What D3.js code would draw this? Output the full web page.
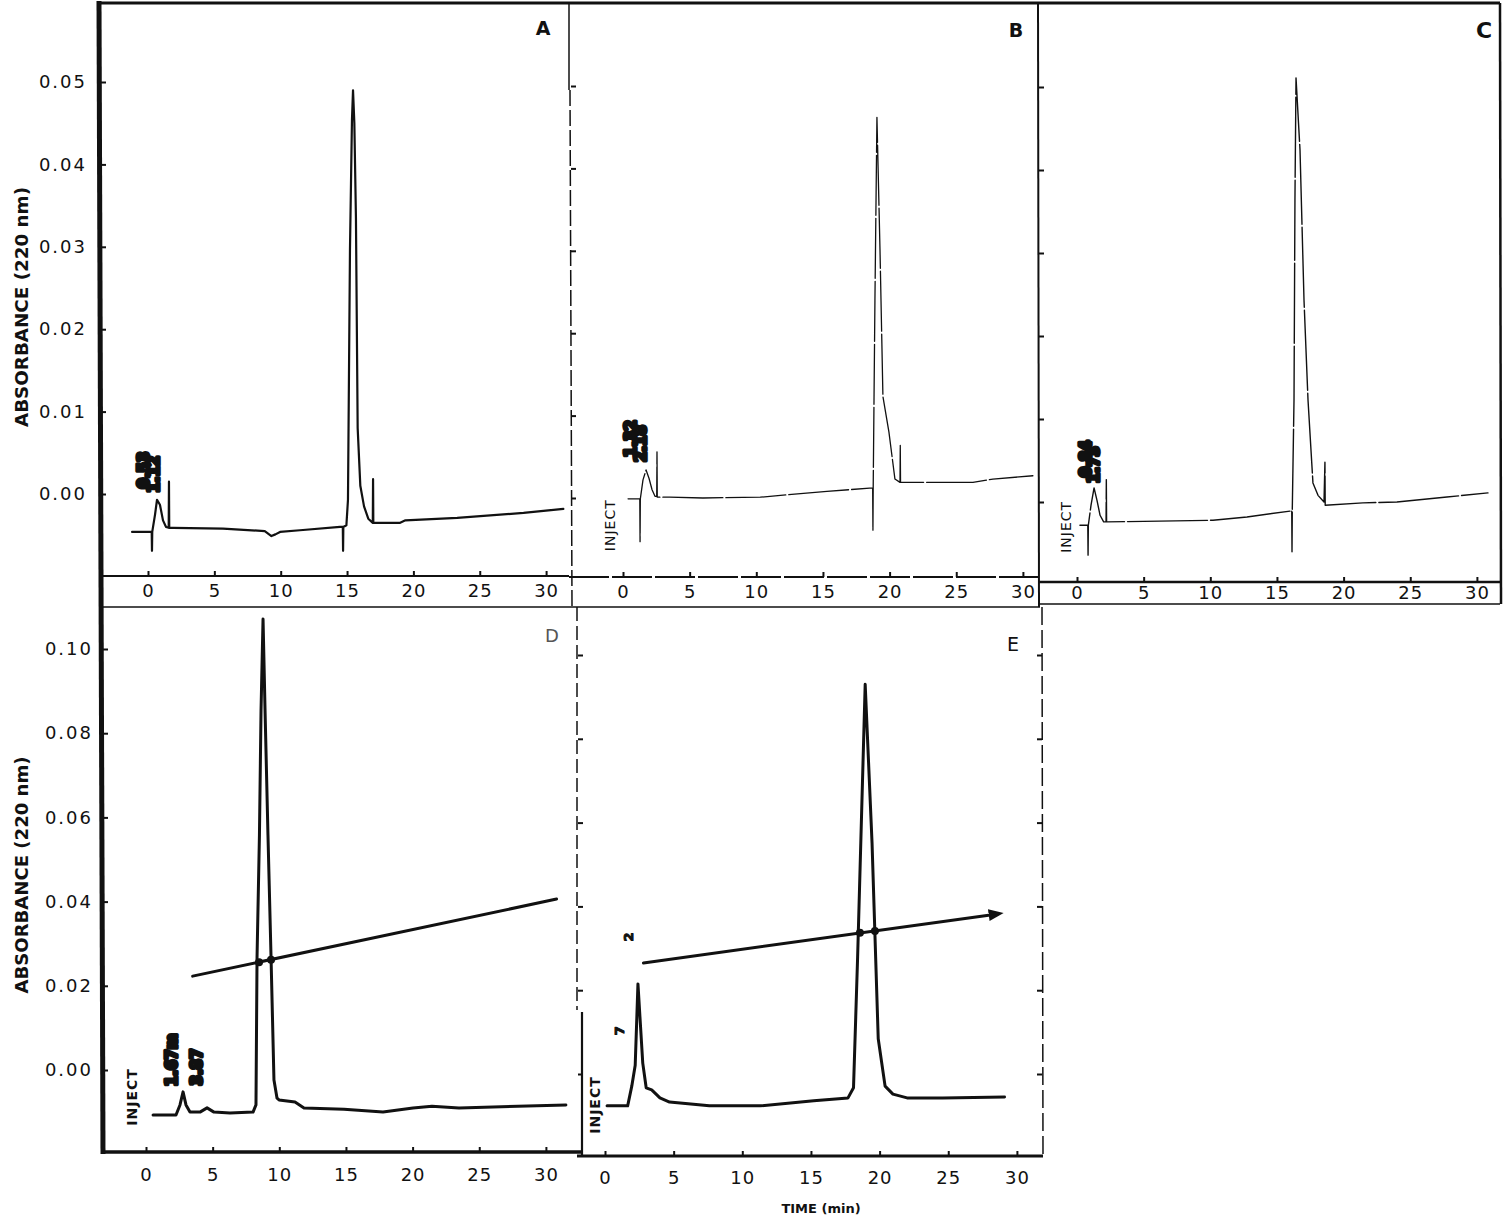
<!DOCTYPE html>
<html>
<meta charset="utf-8">
<style>
    body { margin: 0; background: #fff; }
    text { font-family: "DejaVu Sans", sans-serif; fill: #111; }
    .trace { fill: none; stroke: #111; stroke-linejoin: round; stroke-linecap: round; }
    .frame { stroke: #111; fill: none; }
    .tick text { font-size: 18px; }
    .tick line { stroke: #111; stroke-width: 2px; }
</style>
<body>
<script src="https://d3js.org/d3.v7.min.js"></script>
<script>

// tick values
var timeTicks = [0, 5, 10, 15, 20, 25, 30];
var absTicksTop = [0.00, 0.01, 0.02, 0.03, 0.04, 0.05];
var absTicksBottom = [0.00, 0.02, 0.04, 0.06, 0.08, 0.10];

// chromatograms: [time (min), absorbance]
var traceA = [
    [-1.2, -0.0046], [0.28, -0.0046], [0.3, -0.0069], [0.32, -0.0046],
    [0.53, -0.0025], [0.68, -0.0007], [0.9, -0.0013], [1.13, -0.0032], [1.36, -0.004], [1.56, -0.0041], [1.58, 0.0015], [1.6, -0.0041],
    [1.9, -0.0041], [5.65, -0.0042], [8.8, -0.0045], [9.3, -0.0051], [9.6, -0.0049], [9.95, -0.0046], [11.45, -0.0044], [14.47, -0.004],
    [14.68, -0.004], [14.7, -0.0069], [14.72, -0.004],
    [14.95, -0.0038], [15.07, -0.0007], [15.22, 0.0296], [15.37, 0.0454], [15.45, 0.049], [15.55, 0.045], [15.67, 0.0335],
    [15.8, 0.008], [16.0, 0.001], [16.28, -0.0015], [16.6, -0.003], [16.94, -0.0035], [16.96, 0.0018], [16.98, -0.0035],
    [19.0, -0.0035], [19.4, -0.0032], [23.3, -0.0029], [28.3, -0.0023], [31.3, -0.0018]
];
var traceB = [
    [0.38, -0.0001], [1.26, -0.0001], [1.28, -0.0053], [1.3, -0.0001],
    [1.5, 0.0022], [1.73, 0.0034], [1.95, 0.0024], [2.18, 0.001], [2.4, 0.0002], [2.53, 0.0002], [2.55, 0.0056], [2.57, 0.0001],
    [3.5, 0.0001], [6.0, 0.0], [10.3, 0.0001], [15.3, 0.0008], [18.5, 0.0012],
    [18.73, 0.0012], [18.75, -0.0039], [18.77, 0.0013],
    [18.9, 0.024], [19.05, 0.0462], [19.28, 0.0301], [19.5, 0.0123], [19.95, 0.008], [20.4, 0.0023],
    [20.78, 0.0019], [20.8, 0.0064], [20.82, 0.0019],
    [26.25, 0.0019], [27.75, 0.0023], [30.75, 0.0027]
];
var traceC = [
    [0.22, -0.0028], [0.81, -0.0028], [0.83, -0.0064], [0.85, -0.0028],
    [1.05, -0.0004], [1.28, 0.0017], [1.5, 0.0002], [1.73, -0.0016], [2.0, -0.0024], [2.18, -0.0024], [2.2, 0.0027], [2.22, -0.0024],
    [10.2, -0.0022], [12.75, -0.0018], [15.98, -0.0011],
    [16.11, -0.001], [16.13, -0.006], [16.15, -0.001],
    [16.28, 0.0123], [16.35, 0.0364], [16.43, 0.0511], [16.73, 0.0424], [17.03, 0.0243], [17.33, 0.0123], [17.7, 0.0023],
    [18.08, 0.0008], [18.53, 0.0], [18.6, 0.0048], [18.62, -0.0004],
    [21.45, -0.0001], [24.0, 0.0], [27.75, 0.0006], [30.83, 0.0011]
];
var traceD = [
    [0.53, -0.0107], [2.25, -0.0107], [2.55, -0.0083], [2.78, -0.0052], [3.0, -0.0083], [3.3, -0.01], [4.05, -0.01],
    [4.58, -0.009], [5.1, -0.01], [6.3, -0.0102], [8.03, -0.01],
    [8.25, -0.0083], [8.33, 0.0268], [8.51, 0.0558], [8.63, 0.0855], [8.78, 0.1071], [8.93, 0.0855], [9.15, 0.0558],
    [9.38, 0.0268], [9.6, -0.0024], [9.83, -0.0067],
    [9.98, -0.0071], [11.18, -0.0076], [11.85, -0.009], [14.85, -0.0093], [17.78, -0.01], [20.03, -0.009],
    [21.45, -0.0086], [23.48, -0.009], [31.5, -0.0083]
];
var traceE = [
    [0.15, -0.0076], [1.65, -0.0076], [1.95, -0.0029], [2.2, 0.0021], [2.4, 0.0215], [2.75, 0.0026], [3.0, -0.0033],
    [3.4, -0.0038], [4.0, -0.0057], [4.7, -0.0067], [7.6, -0.0076], [11.3, -0.0076], [15.2, -0.0064], [17.7, -0.0057],
    [18.1, -0.0033], [18.4, 0.028], [18.95, 0.093], [19.45, 0.0551], [19.9, 0.0084], [20.4, -0.0029], [20.97, -0.0048],
    [22.0, -0.0057], [24.6, -0.0057], [29.1, -0.0055]
];

// gradient lines and where the peaks cross them
var gradientD = [[3.5, 0.0223], [30.8, 0.0406]];
var gradientE = [[2.8, 0.0265], [28.6, 0.0382]];
var crossD = [[8.48, 0.0256], [9.38, 0.0262]];
var crossE = [[18.57, 0.0337], [19.66, 0.0341]];

// printed labels on the traces: [time, absorbance, text]
var injectA = [];
var injectB = [[-0.98, -0.0033, "INJECT"]];
var injectC = [[-0.83, -0.003, "INJECT"]];
var injectD = [[-1.05, -0.0064, "INJECT"]];
var injectE = [[-0.73, -0.0074, "INJECT"]];
var rtA = [[-0.3, 0.0029, "0.53"], [0.45, 0.0024, "1.12"]];
var rtB = [[0.6, 0.0072, "1.32"], [1.35, 0.0066, "2.18"]];
var rtC = [[0.7, 0.0052, "0.84"], [1.25, 0.0045, "1.73"]];
var rtD = [[1.95, 0.0024, "1.67m"], [3.83, 0.0007, "3.87"]];
var rtE = [[1.68, 0.0327, "2"], [1.09, 0.0103, "7"]];

var svg = d3.select("body").append("svg")
    .attr("width", 1506)
    .attr("height", 1230);

// panel geometry
var panels = {
    A: { x0: 148, ppm: 13.27, y0: 494, k: 8240, trace: traceA, lw: 2.2, dash: null, inj: injectA, rt: rtA },
    B: { x0: 623, ppm: 13.33, y0: 498, k: 8240, trace: traceB, lw: 1.3, dash: "60,3", inj: injectB, rt: rtB },
    C: { x0: 1077, ppm: 13.33, y0: 502, k: 8300, trace: traceC, lw: 1.4, dash: "80,3", inj: injectC, rt: rtC },
    D: { x0: 146, ppm: 13.33, y0: 1070, k: 4210, trace: traceD, lw: 3, dash: null, inj: injectD, rt: rtD },
    E: { x0: 605, ppm: 13.73, y0: 1074, k: 4190, trace: traceE, lw: 3, dash: null, inj: injectE, rt: rtE }
};
Object.keys(panels).forEach(function (n) {
    var p = panels[n];
    p.x = d3.scaleLinear().domain([0, 30]).range([p.x0, p.x0 + 30 * p.ppm]);
    p.y = d3.scaleLinear().domain([0, 0.1]).range([p.y0, p.y0 - 0.1 * p.k]);
});

function seg(x1, y1, x2, y2, w, dash) {
    svg.append("line").attr("class", "frame")
        .attr("x1", x1).attr("y1", y1).attr("x2", x2).attr("y2", y2)
        .style("stroke-width", w)
        .style("stroke-dasharray", dash || null);
}

// frame lines
seg(99, 3, 1500, 3, 3);            // top edge
seg(99, 1, 103, 1154, 5);          // long left axis
seg(569, 3, 569, 90, 1.5);
seg(570, 90, 572, 607, 1.5, "16,4");
seg(1038, 3, 1039, 607, 2);
seg(1500, 3, 1501, 604, 2.5);
seg(99, 576, 569, 576, 2);
seg(569, 577, 1038, 577, 2, "40,3");
seg(1038, 582, 1500, 582, 2.5);
seg(99, 607, 1040, 607, 1.5);
seg(1038, 604, 1500, 604, 1.5);
seg(101, 1152, 582, 1152, 3.5);
seg(577, 1156, 1043, 1156, 3);
seg(577, 607, 577, 1010, 1.5, "14,5");
seg(582, 1012, 582, 1156, 2.2);
seg(1042, 607, 1043, 1156, 1.5, "18,5");

// x axes
function xAxis(p, yPos, pad) {
    var g = svg.append("g")
        .attr("transform", "translate(0," + yPos + ")")
        .call(d3.axisBottom(p.x).tickValues(timeTicks).tickSize(-5).tickPadding(pad));
    g.select(".domain").remove();
    g.selectAll(".tick text").attr("letter-spacing", "1px");
}
xAxis(panels.A, 576, 8);
xAxis(panels.B, 577, 8);
xAxis(panels.C, 582, 4);
xAxis(panels.D, 1152, 16);
xAxis(panels.E, 1156, 15);

// y axes
function yAxis(p, xPos, ticks, withLabels, pad, right) {
    var ax = right ? d3.axisRight(p.y).tickSize(-5) : d3.axisLeft(p.y).tickSize(-5);
    ax.tickValues(ticks).tickPadding(pad)
        .tickFormat(withLabels ? d3.format(".2f") : "");
    var g = svg.append("g")
        .attr("transform", "translate(" + xPos + ",0)")
        .call(ax);
    g.select(".domain").remove();
    g.selectAll(".tick text").attr("letter-spacing", "2px");
}
yAxis(panels.A, 101, absTicksTop, true, 14);
yAxis(panels.B, 571, absTicksTop, false, 0);
yAxis(panels.C, 1039, absTicksTop, false, 0);
yAxis(panels.D, 103, absTicksBottom, true, 10);
yAxis(panels.E, 578, absTicksBottom, false, 0);
yAxis(panels.E, 1042, absTicksBottom, false, 0, true);

// traces
Object.keys(panels).forEach(function (n) {
    var p = panels[n];
    var line = d3.line()
        .x(function (d) { return p.x(d[0]); })
        .y(function (d) { return p.y(d[1]); });
    svg.append("path")
        .datum(p.trace)
        .attr("class", "trace")
        .attr("d", line)
        .style("stroke-width", p.lw)
        .style("stroke-dasharray", p.dash);

    // INJECT labels
    p.inj.forEach(function (d) {
        svg.append("text")
            .attr("transform", "translate(" + p.x(d[0]) + "," + p.y(d[1]) + ") rotate(-90)")
            .attr("text-anchor", "middle")
            .attr("dominant-baseline", "central")
            .style("font-size", "14px")
            .style("font-weight", (n == "D" || n == "E") ? "bold" : "normal")
            .attr("letter-spacing", "1px")
            .text(d[2]);
    });

    // integrator retention time prints (heavily overprinted in the original)
    p.rt.forEach(function (d) {
        svg.append("text")
            .attr("transform", "translate(" + p.x(d[0]) + "," + p.y(d[1]) + ") rotate(-90)")
            .attr("text-anchor", "middle")
            .attr("dominant-baseline", "central")
            .style("font-size", (n == "E") ? "13px" : "15px")
            .style("font-weight", "bold")
            .style("stroke", "#111")
            .style("stroke-width", (n == "E") ? 1 : 3.5)
            .style("stroke-linejoin", "round")
            .text(d[2]);
    });
});

// gradient lines with crossing dots
svg.append("defs").append("marker")
    .attr("id", "arr")
    .attr("viewBox", "0 0 10 10")
    .attr("refX", 6).attr("refY", 5)
    .attr("markerWidth", 5).attr("markerHeight", 5)
    .attr("orient", "auto")
    .append("path").attr("d", "M0,1L10,5L0,9Z").style("fill", "#111");

[["D", gradientD, crossD], ["E", gradientE, crossE]].forEach(function (g) {
    var p = panels[g[0]];
    var line = d3.line()
        .x(function (d) { return p.x(d[0]); })
        .y(function (d) { return p.y(d[1]); });
    svg.append("path")
        .datum(g[1])
        .attr("class", "trace")
        .attr("d", line)
        .style("stroke-width", 3)
        .attr("marker-end", g[0] == "E" ? "url(#arr)" : null);
    svg.selectAll(null)
        .data(g[2])
        .enter().append("circle")
        .attr("cx", function (d) { return p.x(d[0]); })
        .attr("cy", function (d) { return p.y(d[1]); })
        .attr("r", 4)
        .style("fill", "#111");
});

// panel letters
svg.append("text").attr("x", 543).attr("y", 35).attr("text-anchor", "middle")
    .style("font-size", "19px").style("font-weight", "bold").text("A");
svg.append("text").attr("x", 1016).attr("y", 37).attr("text-anchor", "middle")
    .style("font-size", "19px").style("font-weight", "bold").text("B");
svg.append("text").attr("x", 1484).attr("y", 38).attr("text-anchor", "middle")
    .style("font-size", "22px").style("font-weight", "bold").text("C");
svg.append("text").attr("x", 552).attr("y", 642).attr("text-anchor", "middle")
    .style("font-size", "18px").style("fill", "#555").text("D");
svg.append("text").attr("x", 1013).attr("y", 651).attr("text-anchor", "middle")
    .style("font-size", "19px").text("E");

// axis titles
svg.append("text")
    .attr("transform", "translate(22,307) rotate(-90)")
    .attr("text-anchor", "middle")
    .attr("dominant-baseline", "central")
    .attr("textLength", 240)
    .attr("lengthAdjust", "spacingAndGlyphs")
    .style("font-size", "17px")
    .style("font-weight", "bold")
    .text("ABSORBANCE (220 nm)");
svg.append("text")
    .attr("transform", "translate(22,875) rotate(-90)")
    .attr("text-anchor", "middle")
    .attr("dominant-baseline", "central")
    .attr("textLength", 237)
    .attr("lengthAdjust", "spacingAndGlyphs")
    .style("font-size", "17px")
    .style("font-weight", "bold")
    .text("ABSORBANCE (220 nm)");
svg.append("text")
    .attr("x", 821).attr("y", 1213)
    .attr("text-anchor", "middle")
    .style("font-size", "13px")
    .style("font-weight", "bold")
    .text("TIME (min)");

</script>
</body>
</html>
